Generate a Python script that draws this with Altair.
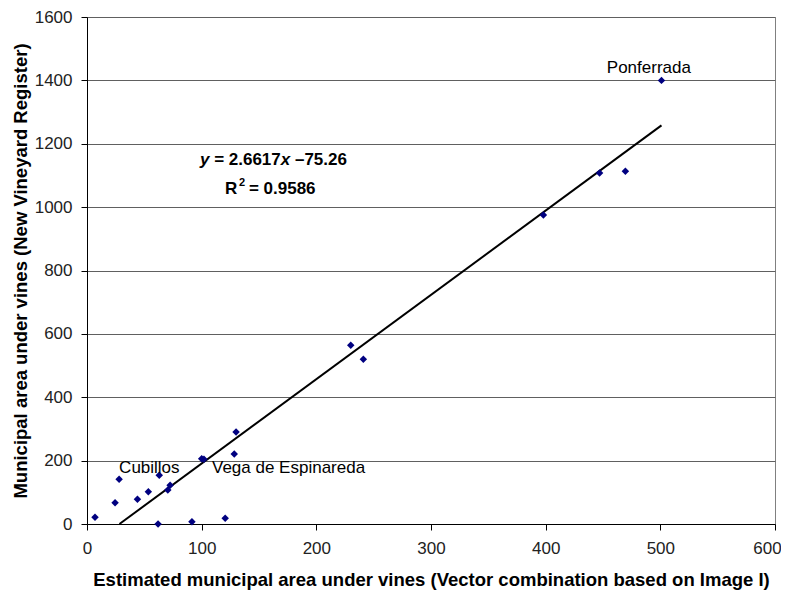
import altair as alt
import pandas as pd

# scatter points (estimated, register)
est = [7, 24.5, 28, 44, 53.5, 63, 62, 70.5, 72.5, 91.5, 100, 102, 120.5, 128.4, 130,
       230, 241, 398, 447, 469.5, 501]
reg = [21, 67, 141, 78, 102, 154, 0, 107, 122, 7, 206, 204, 18, 221, 290,
       564, 520, 975, 1108, 1113, 1400]

# trend line endpoints
trend_x = [28.3, 501]
trend_y = [0, 1258]

# annotations
lab_text = ["Cubillos", "Vega de Espinareda", "Ponferrada"]
lab_x = [28, 109, 490]
lab_y = [177, 177, 1438]
lab_align = ["left", "left", "center"]

pts = pd.DataFrame({"est": est, "reg": reg})
trend = pd.DataFrame({"est": trend_x, "reg": trend_y})
labs = pd.DataFrame({"t": lab_text, "est": lab_x, "reg": lab_y, "al": lab_align})

FONT = "Liberation Sans"

xscale = alt.Scale(domain=[0, 600], nice=False)
yscale = alt.Scale(domain=[0, 1600], nice=False)

xaxis = alt.Axis(values=[0, 100, 200, 300, 400, 500, 600], grid=False, format="d",
                 title="Estimated municipal area under vines (Vector combination based on Image I)",
                 titlePadding=14, labelPadding=10, labelFlush=False,
                 labelOffset={"expr": "datum.value == 600 ? -8 : 0"})
yaxis = alt.Axis(values=list(range(0, 1601, 200)), grid=True, format="d",
                 title="Municipal area under vines (New Vineyard Register)",
                 titlePadding=4, labelPadding=9, labelFlush=False)

points = alt.Chart(pts).mark_point(shape="diamond", filled=True, color="#000080",
                                   size=56, opacity=1).encode(
    x=alt.X("est:Q", scale=xscale, axis=xaxis),
    y=alt.Y("reg:Q", scale=yscale, axis=yaxis),
)

line = alt.Chart(trend).mark_line(color="black", strokeWidth=2).encode(
    x=alt.X("est:Q", scale=xscale),
    y=alt.Y("reg:Q", scale=yscale),
)

lab_left = alt.Chart(labs[labs.al == "left"]).mark_text(
    align="left", baseline="middle", font=FONT, fontSize=17, color="black").encode(
    x="est:Q", y="reg:Q", text="t:N")
lab_center = alt.Chart(labs[labs.al == "center"]).mark_text(
    align="center", baseline="middle", font=FONT, fontSize=17, color="black").encode(
    x="est:Q", y="reg:Q", text="t:N")

# equation pieces: text, dx, style, size, dy
eq_parts = [("y", 0, "italic", 17, 0), ("=", 14.2, "normal", 17, 0),
            ("2.6617", 28.8, "normal", 17, 0), ("x", 80.8, "italic", 17, 0),
            ("\u201375.26", 95, "normal", 17, 0)]
r2_parts = [("R", 0, "normal", 17, 0), ("2", 14, "normal", 11, -6),
            ("=", 24, "normal", 17, 0), ("0.9586", 38.6, "normal", 17, 0)]

txt_layers = []
for parts, ex, ey in [(eq_parts, 98.5, 1150), (r2_parts, 120.3, 1057)]:
    for txt, dx, st, fs, dy in parts:
        txt_layers.append(
            alt.Chart(pd.DataFrame({"est": [ex], "reg": [ey], "t": [txt]})).mark_text(
                align="left", baseline="middle", font=FONT, fontSize=fs, fontWeight="bold",
                fontStyle=st, dx=dx, dy=dy, color="black").encode(
                x="est:Q", y="reg:Q", text="t:N"))

chart = alt.layer(line, points, lab_left, lab_center, *txt_layers).properties(
    width=688, height=507,
    autosize=alt.AutoSizeParams(type="none"),
    padding={"left": 79, "top": 9, "right": 6, "bottom": 66},
    background="white",
).configure_view(stroke="#808080", strokeWidth=1).configure_axis(
    labelFont=FONT, titleFont=FONT, labelFontSize=17, titleFontSize=18.5,
    labelColor="#222", titleColor="black", titleFontWeight="bold",
    domainColor="black", tickColor="black", tickSize=6,
    gridColor="#606060", gridWidth=1, gridOpacity=1,
)

chart.save("out.html", embed_options={"renderer": "svg", "actions": False})
